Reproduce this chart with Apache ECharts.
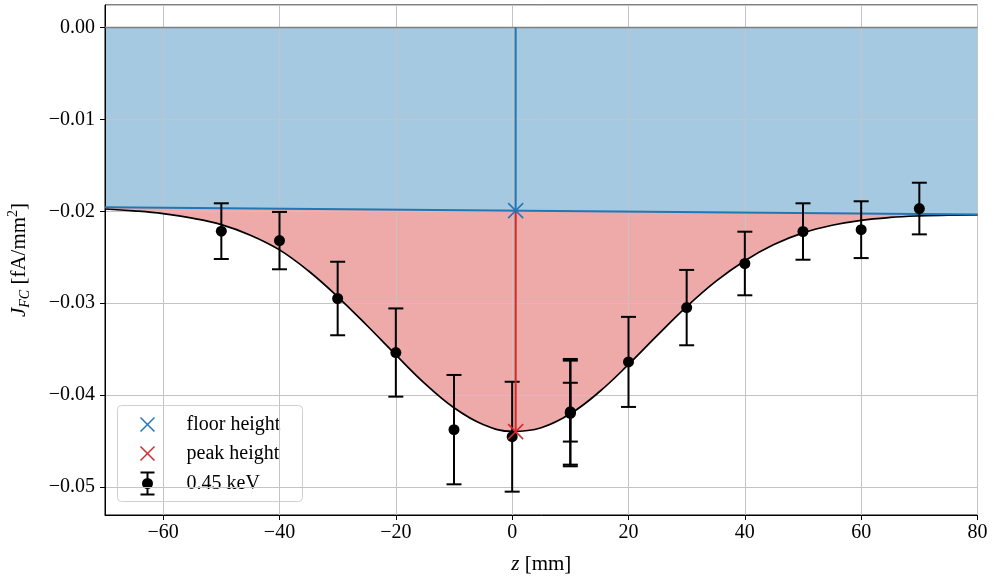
<!DOCTYPE html>
<html><head><meta charset="utf-8">
<script src="https://cdn.jsdelivr.net/npm/echarts@6/dist/echarts.min.js"></script>
<style>html,body{margin:0;padding:0;background:#fff}#c{width:994px;height:581px}</style>
</head><body><div id="c"></div>
<script>
const zData   = [-50, -40, -30, -20, -10, 0, 10, 10, 10, 20, 30, 40, 50, 60, 70];
const jData   = [-0.02216, -0.02319, -0.02949, -0.03537, -0.04376, -0.04453, -0.04182, -0.04200, -0.04186, -0.03639, -0.03048, -0.02568, -0.02220, -0.02200, -0.01970];
const errData = [0.00303, 0.00312, 0.00400, 0.00480, 0.00595, 0.00598, 0.00575, 0.00575, 0.00320, 0.00490, 0.00410, 0.00346, 0.00307, 0.00309, 0.00281];
const fitZ = [-70, -65, -60, -55, -50, -45, -40, -35, -30, -25, -20, -15, -10, -5, 0, 5, 10, 15, 20, 25, 30, 35, 40, 45, 50, 55, 60, 65, 70, 75, 80];
const fitJ = [-0.01975, -0.01995, -0.02025, -0.02075, -0.02145, -0.02260, -0.02420, -0.02650, -0.02930, -0.03240, -0.03562, -0.03875, -0.04138, -0.04320, -0.04396, -0.04355, -0.04204, -0.03964, -0.03667, -0.03348, -0.03038, -0.02763, -0.02538, -0.02362, -0.02235, -0.02152, -0.02098, -0.02067, -0.02050, -0.02041, -0.02038];
const floorZ = [-70, 80];
const floorJ = [-0.01957, -0.02034];
const peakZ = 0.6;
const floorHeight = -0.01993;
const peakHeight = -0.04398;
const zeroZ = [-70, 80];
const zeroJ = [0, 0];
const legendLabels = ['floor height', 'peak height', '0.45 keV'];

const FONT = 'Liberation Serif';
const BLUE = '#1f77b4', RED = '#d62728';
const BLUE_FILL = '#a5c9e1', RED_FILL = '#eea9a9';
const pairs = (xs, ys) => xs.map((x, i) => [x, ys[i]]);
const fmt = (v, d) => { const s = Math.abs(v).toFixed(d); return (v < -1e-12 ? '\u2212' : '') + s; };

const chart = echarts.init(document.getElementById('c'), null, {renderer: 'canvas'});
const richName = {
  i: {fontFamily: FONT, fontStyle: 'italic', fontSize: 21, lineHeight: 26, color: '#000'},
  n: {fontFamily: FONT, fontSize: 21, lineHeight: 26, color: '#000'},
  sub: {fontFamily: FONT, fontStyle: 'italic', fontSize: 14, lineHeight: 14, verticalAlign: 'bottom', color: '#000'},
  sup: {fontFamily: FONT, fontSize: 14, lineHeight: 20, verticalAlign: 'top', color: '#000'}
};
const option = {
  animation: false,
  backgroundColor: '#fff',
  grid: {left: 105, right: 16.5, top: 5, bottom: 66, containLabel: false, outerBoundsMode: 'none',
         show: true, borderColor: '#000', borderWidth: 1, backgroundColor: 'transparent', z: 3},
  xAxis: {
    type: 'value', min: -70, max: 80, splitNumber: 7, z: 3,
    axisLine: {show: true, onZero: false, lineStyle: {color: '#000', width: 1}},
    axisTick: {show: true, length: 5, inside: false, lineStyle: {color: '#000', width: 1}},
    axisLabel: {margin: 8, color: '#000', fontFamily: FONT, fontSize: 20, showMinLabel: false,
                formatter: v => fmt(v, 0)},
    splitLine: {show: true, lineStyle: {color: '#c4c4c4', width: 1}},
    name: '{i|z}{n| [mm]}', nameLocation: 'middle', nameGap: 36,
    nameTextStyle: {rich: richName}
  },
  yAxis: {
    type: 'value', min: -0.05305, max: 0.00245, splitNumber: 5, z: 3,
    axisLine: {show: true, onZero: false, lineStyle: {color: '#000', width: 1}},
    axisTick: {show: true, length: 5, inside: false, lineStyle: {color: '#000', width: 1}},
    axisLabel: {margin: 10, color: '#000', fontFamily: FONT, fontSize: 20, showMinLabel: false, showMaxLabel: false,
                formatter: v => fmt(v, 2)},
    splitLine: {show: true, lineStyle: {color: '#c4c4c4', width: 1}},
    name: '{i|J}{sub|FC}{n| [fA/mm}{sup|2}{n|]}', nameLocation: 'middle', nameGap: 73,
    nameTextStyle: {rich: richName}
  },
  series: [
    {type: 'line', z: 1, data: pairs(fitZ, fitJ), smooth: 0.4, showSymbol: false, silent: true,
     lineStyle: {width: 0}, areaStyle: {color: RED_FILL, opacity: 1, origin: 'auto'}},
    {type: 'line', z: 2, data: pairs(floorZ, floorJ), showSymbol: false, silent: true,
     lineStyle: {width: 0}, areaStyle: {color: BLUE_FILL, opacity: 1, origin: 'auto'}},
    {type: 'line', z: 5, data: pairs(zeroZ, zeroJ), showSymbol: false, lineStyle: {color: '#808080', width: 1.5, opacity: 1}},
    {type: 'line', z: 5, data: pairs(fitZ, fitJ), smooth: 0.4, showSymbol: false, lineStyle: {color: '#000', width: 1.7, opacity: 1}},
    {type: 'line', z: 5, data: pairs(floorZ, floorJ), showSymbol: false, lineStyle: {color: BLUE, width: 2, opacity: 1}},
    {type: 'custom', z: 9, data: [[peakZ, floorHeight, peakHeight]], encode: {x: 0, y: [1, 2]},
     renderItem: (params, api) => {
       const x = api.value(0), f = api.value(1), p = api.value(2);
       const top = api.coord([x, 0]), fl = api.coord([x, f]), pk = api.coord([x, p]);
       const h = 7.5;
       const cross = (c, col) => [
         {type: 'line', shape: {x1: c[0] - h, y1: c[1] - h, x2: c[0] + h, y2: c[1] + h}, style: {stroke: col, lineWidth: 1.5}},
         {type: 'line', shape: {x1: c[0] + h, y1: c[1] - h, x2: c[0] - h, y2: c[1] + h}, style: {stroke: col, lineWidth: 1.5}}
       ];
       return {type: 'group', children: [
         {type: 'rect', shape: {x: top[0] - 1, y: top[1], width: 2, height: fl[1] - top[1]}, style: {fill: BLUE}},
         {type: 'rect', shape: {x: fl[0] - 1, y: fl[1], width: 2, height: pk[1] - fl[1]}, style: {fill: RED}}
       ].concat(cross(fl, BLUE))};
     }},
    {type: 'custom', z: 6, data: zData.map((z, i) => [z, jData[i], errData[i]]), encode: {x: 0, y: 1},
     renderItem: (params, api) => {
       const x = api.value(0), y = api.value(1), e = api.value(2);
       const t = api.coord([x, y + e]), b = api.coord([x, y - e]);
       const cw = 7.5, st = {stroke: '#000', lineWidth: 2};
       return {type: 'group', children: [
         {type: 'line', shape: {x1: t[0], y1: t[1], x2: b[0], y2: b[1]}, style: st},
         {type: 'line', shape: {x1: t[0] - cw, y1: t[1], x2: t[0] + cw, y2: t[1]}, style: st},
         {type: 'line', shape: {x1: b[0] - cw, y1: b[1], x2: b[0] + cw, y2: b[1]}, style: st}
       ]};
     }},
    {type: 'scatter', z: 7, data: pairs(zData, jData), symbol: 'circle', symbolSize: 11, itemStyle: {color: '#000', opacity: 1}},
    {type: 'custom', z: 9, data: [[peakZ, peakHeight]], encode: {x: 0, y: 1},
     renderItem: (params, api) => {
       const c = api.coord([api.value(0), api.value(1)]), h = 7.5;
       return {type: 'group', children: [
         {type: 'line', shape: {x1: c[0] - h, y1: c[1] - h, x2: c[0] + h, y2: c[1] + h}, style: {stroke: RED, lineWidth: 1.5}},
         {type: 'line', shape: {x1: c[0] + h, y1: c[1] - h, x2: c[0] - h, y2: c[1] + h}, style: {stroke: RED, lineWidth: 1.5}}
       ]};
     }}
  ],
  graphic: [{
    type: 'group', left: 117, top: 405, z: 20,
    children: [
      {type: 'rect', shape: {x: 0, y: 0, width: 185, height: 96, r: 4},
       style: {fill: 'rgba(255,255,255,0.8)', stroke: '#d0d0d0', lineWidth: 1}},
      {type: 'line', shape: {x1: 23, y1: 12, x2: 37, y2: 26}, style: {stroke: BLUE, lineWidth: 1.5}},
      {type: 'line', shape: {x1: 37, y1: 12, x2: 23, y2: 26}, style: {stroke: BLUE, lineWidth: 1.5}},
      {type: 'text', x: 69, y: 19, style: {text: legendLabels[0], font: '20px "Liberation Serif"', fill: '#000', verticalAlign: 'middle'}},
      {type: 'line', shape: {x1: 23, y1: 41, x2: 37, y2: 55}, style: {stroke: RED, lineWidth: 1.5}},
      {type: 'line', shape: {x1: 37, y1: 41, x2: 23, y2: 55}, style: {stroke: RED, lineWidth: 1.5}},
      {type: 'text', x: 69, y: 48, style: {text: legendLabels[1], font: '20px "Liberation Serif"', fill: '#000', verticalAlign: 'middle'}},
      {type: 'line', shape: {x1: 30, y1: 67, x2: 30, y2: 89}, style: {stroke: '#000', lineWidth: 2}},
      {type: 'line', shape: {x1: 23, y1: 67, x2: 37, y2: 67}, style: {stroke: '#000', lineWidth: 2}},
      {type: 'line', shape: {x1: 23, y1: 89, x2: 37, y2: 89}, style: {stroke: '#000', lineWidth: 2}},
      {type: 'circle', shape: {cx: 30, cy: 78, r: 5.5}, style: {fill: '#000'}},
      {type: 'text', x: 69, y: 78, style: {text: legendLabels[2], font: '20px "Liberation Serif"', fill: '#000', verticalAlign: 'middle'}}
    ]
  }]
};
chart.setOption(option);
</script>
</body></html>
